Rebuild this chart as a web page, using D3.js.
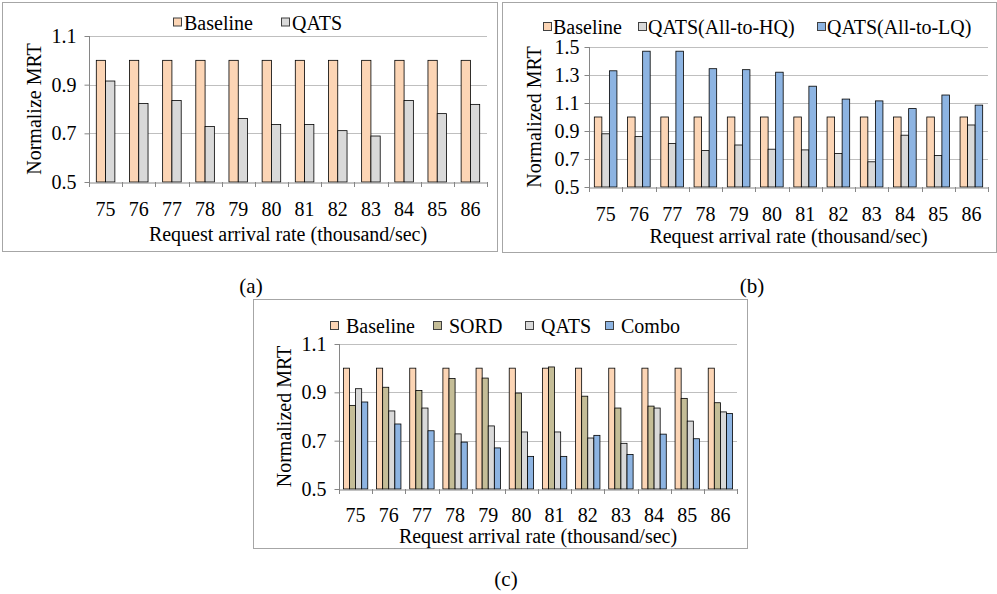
<!DOCTYPE html>
<html>
<head>
<meta charset="utf-8">
<script src="https://cdn.jsdelivr.net/npm/d3@7"></script>
<style>
  body { margin: 0; background: #fff; }
  svg text { font-family: "Liberation Serif", "Times New Roman", serif; fill: #000; }
</style>
</head>
<body>
<div id="chart"></div>
<script>
// data
var rates = ["75", "76", "77", "78", "79", "80", "81", "82", "83", "84", "85", "86"];
var baseline = [1, 1, 1, 1, 1, 1, 1, 1, 1, 1, 1, 1];
var qats = [0.915, 0.823, 0.835, 0.728, 0.761, 0.736, 0.736, 0.711, 0.689, 0.835, 0.781, 0.819];
var qatsHQ = [0.88, 0.86, 0.81, 0.76, 0.80, 0.77, 0.765, 0.74, 0.68, 0.87, 0.725, 0.943];
var qatsLQ = [1.33, 1.47, 1.47, 1.345, 1.338, 1.32, 1.22, 1.128, 1.115, 1.06, 1.157, 1.085];
var sord = [0.846, 0.921, 0.908, 0.957, 0.959, 0.897, 1.005, 0.884, 0.835, 0.843, 0.875, 0.857];
var combo = [0.86, 0.769, 0.741, 0.694, 0.67, 0.635, 0.635, 0.722, 0.643, 0.727, 0.708, 0.812];
var ticksAC = [0.5, 0.7, 0.9, 1.1];
var ticksB = [0.5, 0.7, 0.9, 1.1, 1.3, 1.5];

var colors = {
  "Baseline": "#fcd5b5",
  "SORD": "#c4bd97",
  "QATS": "#d9d9d9",
  "QATS(All-to-HQ)": "#d9d9d9",
  "QATS(All-to-LQ)": "#8db4e2",
  "Combo": "#8db4e2"
};

var svg = d3.select("#chart")
  .append("svg")
    .attr("width", 997)
    .attr("height", 594);

function drawPanel(p) {
  var g = svg.append("g");

  // outer frame
  g.append("rect")
    .attr("x", p.frame[0]).attr("y", p.frame[1])
    .attr("width", p.frame[2] - p.frame[0]).attr("height", p.frame[3] - p.frame[1])
    .attr("fill", "none").attr("stroke", "#a6a6a6");

  var x = d3.scaleBand()
    .domain(rates)
    .range([p.x0, p.x1])
    .paddingInner(p.pad)
    .paddingOuter(p.pad / 2);

  var xs = d3.scaleBand()
    .domain(p.series.map(function(s) { return s.name; }))
    .range([0, x.bandwidth()]);

  var y = d3.scaleLinear()
    .domain([0.5, p.ticks[p.ticks.length - 1]])
    .range([p.y0, p.y1]);

  // gridlines
  g.append("g").selectAll("line")
    .data(p.ticks.slice(1))
    .enter().append("line")
      .attr("x1", p.x0).attr("x2", p.x1)
      .attr("y1", function(d) { return Math.round(y(d)) + 0.5; })
      .attr("y2", function(d) { return Math.round(y(d)) + 0.5; })
      .attr("stroke", "#bfbfbf");

  // bars
  p.series.forEach(function(s) {
    g.append("g").selectAll("rect")
      .data(s.values)
      .enter().append("rect")
        .attr("x", function(d, i) { return x(rates[i]) + xs(s.name); })
        .attr("y", function(d) { return y(d); })
        .attr("width", xs.bandwidth())
        .attr("height", function(d) { return y(0.5) - y(d); })
        .attr("fill", colors[s.name])
        .attr("stroke", "#000")
        .attr("stroke-width", 0.8);
  });

  // axes
  var yAxis = d3.axisLeft(y).tickValues(p.ticks).tickSize(5).tickFormat(d3.format(".1f"));
  var ya = g.append("g")
    .attr("transform", "translate(" + (p.x0 + 0.5) + ",0)")
    .call(yAxis);
  ya.select(".domain").attr("stroke", "#868686").attr("d", "M0," + y(p.ticks[p.ticks.length - 1]) + "V" + y(0.5));
  ya.selectAll(".tick line").attr("stroke", "#868686");
  ya.selectAll(".tick text")
    .attr("x", -p.ylabGap)
    .style("font-size", "20px")
    .style("font-family", "Liberation Serif");

  var xAxis = d3.axisBottom(x).tickSize(0).tickPadding(0);
  var xa = g.append("g")
    .attr("transform", "translate(0," + (Math.round(y(0.5)) + 0.5) + ")")
    .call(xAxis);
  xa.select(".domain").attr("stroke", "#868686");
  xa.selectAll(".tick text")
    .attr("dy", null)
    .attr("y", p.xlabY)
    .style("font-size", "20px")
    .style("font-family", "Liberation Serif");

  // category separator ticks below the axis
  g.append("g").selectAll("line")
    .data(d3.range(rates.length + 1))
    .enter().append("line")
      .attr("x1", function(i) { return Math.round(p.x0 + i * x.step()) + 0.5; })
      .attr("x2", function(i) { return Math.round(p.x0 + i * x.step()) + 0.5; })
      .attr("y1", y(0.5)).attr("y2", y(0.5) + 5)
      .attr("stroke", "#868686");

  // axis titles
  g.append("text")
    .attr("x", (p.x0 + p.x1) / 2)
    .attr("y", p.y0 + p.xtitleY)
    .attr("text-anchor", "middle")
    .style("font-size", "20px")
    .text("Request arrival rate (thousand/sec)");

  g.append("text")
    .attr("transform", "translate(" + p.ytitleX + "," + (p.y0 + p.y1) / 2 + ") rotate(-90)")
    .attr("text-anchor", "middle")
    .attr("dy", "0.35em")
    .style("font-size", "20px")
    .text(p.ytitle);

  // legend
  var lg = g.append("g").selectAll("g")
    .data(p.series)
    .enter().append("g")
      .attr("transform", function(s, i) { return "translate(" + p.legendX[i] + "," + p.legendY + ")"; });
  lg.append("rect")
    .attr("x", 0.5).attr("y", -11.5)
    .attr("width", 8).attr("height", 8)
    .attr("fill", function(s) { return colors[s.name]; })
    .attr("stroke", "#404040");
  lg.append("text")
    .attr("x", p.legendGap)
    .style("font-size", "20px")
    .text(function(s) { return s.name; });

  // caption
  svg.append("text")
    .attr("x", p.caption[0]).attr("y", p.caption[1])
    .attr("text-anchor", "middle")
    .style("font-size", "21px")
    .text(p.label);
}

drawPanel({
  label: "(a)", caption: [251, 293],
  frame: [2.5, 2.5, 497.5, 251.5],
  x0: 89, x1: 487, y0: 182, y1: 36, pad: 0.44,
  ticks: ticksAC, ylabGap: 13, xlabY: 33, xtitleY: 59, ytitleX: 34,
  ytitle: "Normalize MRT",
  legendX: [173, 281], legendY: 29.5, legendGap: 11,
  series: [{name: "Baseline", values: baseline}, {name: "QATS", values: qats}]
});

drawPanel({
  label: "(b)", caption: [752, 293],
  frame: [502.5, 2.5, 996.5, 252.5],
  x0: 589, x1: 988, y0: 187, y1: 47, pad: 0.32,
  ticks: ticksB, ylabGap: 10, xlabY: 33, xtitleY: 56, ytitleX: 534,
  ytitle: "Normalized MRT",
  legendX: [543, 638, 817], legendY: 34, legendGap: 10,
  series: [{name: "Baseline", values: baseline}, {name: "QATS(All-to-HQ)", values: qatsHQ},
           {name: "QATS(All-to-LQ)", values: qatsLQ}]
});

drawPanel({
  label: "(c)", caption: [506, 586],
  frame: [253.5, 299.5, 747.5, 548.5],
  x0: 339, x1: 737, y0: 489, y1: 344, pad: 0.265,
  ticks: ticksAC, ylabGap: 13, xlabY: 32, xtitleY: 54, ytitleX: 284,
  ytitle: "Normalized MRT",
  legendX: [330, 433, 525, 605], legendY: 333, legendGap: 16,
  series: [{name: "Baseline", values: baseline}, {name: "SORD", values: sord},
           {name: "QATS", values: qats}, {name: "Combo", values: combo}]
});
</script>
</body>
</html>
